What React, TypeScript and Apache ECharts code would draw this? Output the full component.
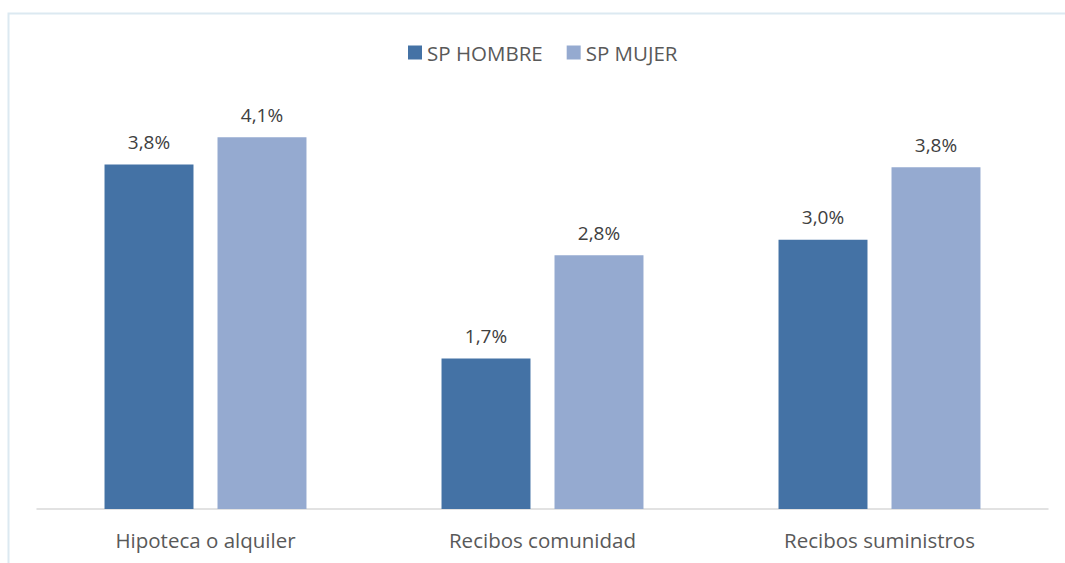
import React, { useEffect, useRef } from "react";
import * as echarts from "echarts";

const categories = ["Hipoteca o alquiler", "Recibos comunidad", "Recibos suministros"];
const seriesNames = ["SP HOMBRE", "SP MUJER"];
const hombre = [3.8, 1.66, 2.97];
const mujer = [4.1, 2.8, 3.77];
const colors = ["#4472A5", "#95AAD0"];

const fmt = (v: number) => v.toFixed(1).replace(".", ",") + "%";

export default function App() {
  const ref = useRef<HTMLDivElement>(null);
  useEffect(() => {
    const chart = echarts.init(ref.current!, null, { renderer: "svg" });
    const font = "'Open Sans', 'Liberation Sans', sans-serif";
    const label = {
      show: true,
      position: "top",
      distance: 13,
      formatter: (p: any) => fmt(p.value),
      fontFamily: font,
      fontSize: 19,
      color: "#404040",
    };
    chart.setOption({
      animation: false,
      backgroundColor: "#ffffff",
      graphic: [
        {
          type: "rect",
          shape: { x: 8.5, y: 13.5, width: 1100, height: 600 },
          style: { fill: "none", stroke: "#DCE9F1", lineWidth: 2 },
          silent: true,
        },
      ],
      legend: {
        top: 37,
        left: 403,
        itemWidth: 14,
        itemHeight: 14,
        itemGap: 24,
        icon: "rect",
        textStyle: { fontFamily: font, fontSize: 20.5, color: "#595959", padding: [0, 0, 0, 0] },
        data: seriesNames,
      },
      grid: { left: 37, right: 17, top: 101, bottom: 54 },
      xAxis: {
        type: "category",
        data: categories,
        axisLine: { lineStyle: { color: "#D9D9D9", width: 1.5 } },
        axisTick: { show: false },
        axisLabel: { fontFamily: font, fontSize: 20.5, color: "#595959", margin: 20 },
      },
      yAxis: {
        type: "value",
        min: 0,
        max: 4.5,
        show: false,
        splitLine: { show: false },
      },
      series: [
        {
          name: seriesNames[0],
          type: "bar",
          data: hombre,
          barWidth: "26.4%",
          barGap: "27%",
          itemStyle: { color: colors[0] },
          label,
        },
        {
          name: seriesNames[1],
          type: "bar",
          data: mujer,
          barWidth: "26.4%",
          itemStyle: { color: colors[1] },
          label,
        },
      ],
    });
    return () => chart.dispose();
  }, []);
  return (
    <div
      ref={ref}
      style={{ position: "fixed", left: 0, top: 0, width: 1065, height: 563 }}
    />
  );
}
